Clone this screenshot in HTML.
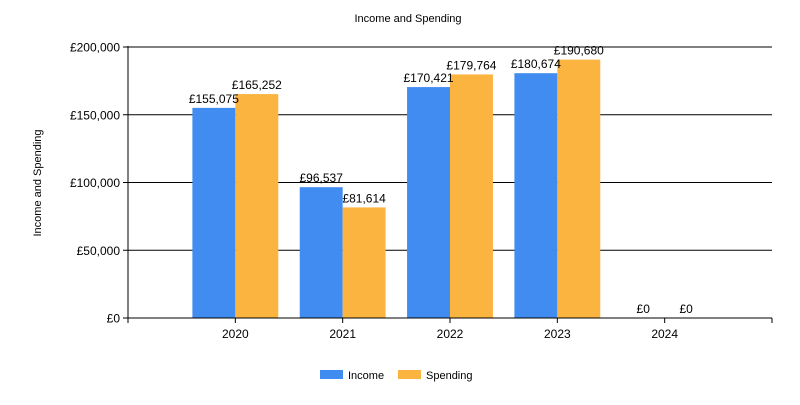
<!DOCTYPE html>
<html><head><meta charset="utf-8"><style>
body{margin:0;background:#fff;font-family:"Liberation Sans",sans-serif;}
</style></head><body>
<svg width="800" height="400" xmlns="http://www.w3.org/2000/svg" font-family="Liberation Sans, sans-serif">
<rect width="800" height="400" fill="#fff"/>
<text x="408" y="22" font-size="11" text-anchor="middle">Income and Spending</text>
<text transform="translate(41,183) rotate(-90)" font-size="11" text-anchor="middle">Income and Spending</text>
<g id="grid"></g>
<g id="bars"></g>
<g id="axes"></g>
<g>
<rect x="320" y="370" width="23" height="9" fill="#418CF0"/>
<text x="348" y="379" font-size="11">Income</text>
<rect x="398" y="370" width="23" height="9" fill="#FCB441"/>
<text x="426" y="379" font-size="11">Spending</text>
</g>
</svg>
<script>
const categories=["2020","2021","2022","2023","2024"];
const income=[155075,96537,170421,180674,0];
const spending=[165252,81614,179764,190680,0];
const yTicks=[0,50000,100000,150000,200000];
const NS="http://www.w3.org/2000/svg";
const X0=128,X1=772,Y0=318,Y1=47,YMAX=200000;
const slot=(X1-X0)/(categories.length+1);
const xc=i=>X0+slot*(i+1);
const y=v=>Y0-(v/YMAX)*(Y0-Y1);
const bw=slot*0.4;
function mk(tag,attrs,parent){const e=document.createElementNS(NS,tag);for(const k in attrs)e.setAttribute(k,attrs[k]);document.getElementById(parent).appendChild(e);return e;}
const fmt=v=>"£"+v.toLocaleString("en-GB");
yTicks.forEach(t=>{
  if(t>0){const g=mk("line",{x1:X0,x2:X1,y1:y(t),y2:y(t),stroke:"#000","stroke-width":1},"grid");
  
  }
  const tk=mk("line",{x1:X0-5,x2:X0,y1:y(t),y2:y(t),stroke:"#000"},"axes");
  
  
  const tx=mk("text",{x:X0-8,y:y(t)+4.5,"font-size":12,"text-anchor":"end"},"axes");
  tx.textContent=fmt(t);
  
  
});
categories.forEach((c,i)=>{
  const cx=xc(i);
  const b1=mk("rect",{x:cx-bw,y:y(income[i]),width:bw,height:Y0-y(income[i]),fill:"#418CF0"},"bars");
  
  
  const b2=mk("rect",{x:cx,y:y(spending[i]),width:bw,height:Y0-y(spending[i]),fill:"#FCB441"},"bars");
  
  
  const l1=mk("text",{x:cx-bw/2,y:y(income[i])-5,"font-size":12,"text-anchor":"middle"},"bars");
  l1.textContent=fmt(income[i]);
  
  
  const l2=mk("text",{x:cx+bw/2,y:y(spending[i])-5,"font-size":12,"text-anchor":"middle"},"bars");
  l2.textContent=fmt(spending[i]);
  
  
  const tk=mk("line",{x1:cx,x2:cx,y1:Y0,y2:Y0+5,stroke:"#000"},"axes");
  
  
  const tx=mk("text",{x:cx,y:Y0+20,"font-size":12,"text-anchor":"middle"},"axes");
  tx.textContent=c;
  
  
});
[X0,X1].forEach(xx=>{const t=mk("line",{x1:xx,x2:xx,y1:Y0,y2:Y0+5,stroke:"#000"},"axes");

});
const xa=mk("line",{x1:X0,x2:X1,y1:Y0,y2:Y0,stroke:"#000"},"axes");


const ya=mk("line",{x1:X0,x2:X0,y1:Y1-1,y2:Y0,stroke:"#000"},"axes");


</script>
</body></html>
